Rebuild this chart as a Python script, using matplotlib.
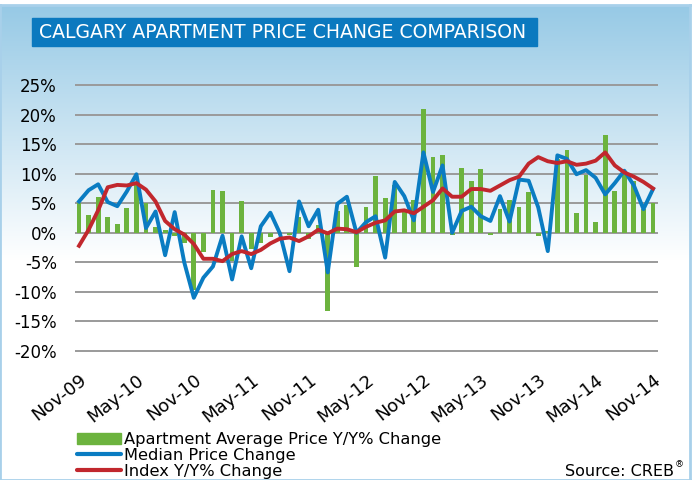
import numpy as np
import matplotlib
matplotlib.use("Agg")
import matplotlib.pyplot as plt
from matplotlib.patches import Patch, Rectangle
from matplotlib.lines import Line2D

months = ["Nov-09", "May-10", "Nov-10", "May-11", "Nov-11", "May-12",
          "Nov-12", "May-13", "Nov-13", "May-14", "Nov-14"]

# monthly values, Nov-09 .. Nov-14 (61 months)
avg_price = [5.0, 3.0, 6.1, 2.7, 1.5, 4.2, 8.5, 5.0, 1.0, 0.5, -0.5, -1.8,
             -9.6, -3.2, 7.2, 7.0, -4.7, 5.4, -2.8, -1.8, -0.7, -0.4, -0.3, 2.7,
             -1.0, 1.4, -13.3, 3.6, 4.7, -5.8, 4.4, 9.6, 5.8, 8.0, 3.5, 5.6,
             21.0, 12.8, 13.1, -0.4, 11.0, 8.8, 10.8, -0.3, 4.0, 5.6, 4.4, 6.9,
             -0.6, 0.3, 12.5, 14.0, 3.3, 9.7, 1.9, 16.6, 7.0, 9.8, 8.8, 4.0,
             5.0]
median_price = [5.3, 7.2, 8.2, 5.2, 4.5, 7.0, 9.9, 0.8, 3.6, -3.8, 3.5, -5.0,
                -11.0, -7.6, -5.7, -0.5, -7.9, -0.6, -6.0, 1.1, 3.4, -0.1, -6.5, 5.3,
                1.1, 3.9, -6.7, 4.9, 6.1, 0.0, 1.8, 2.8, -4.2, 8.6, 6.2, 2.1,
                13.6, 6.9, 11.4, 0.0, 3.7, 4.4, 2.8, 2.0, 6.2, 1.9, 9.0, 8.8,
                4.3, -3.1, 13.1, 12.5, 9.9, 10.6, 9.3, 6.5, 8.4, 10.5, 8.0, 4.0,
                7.4]
index_yy = [-2.2, 0.5, 3.8, 7.7, 8.1, 8.0, 8.4, 7.3, 5.3, 2.0, 0.6, -0.3,
            -1.9, -4.4, -4.4, -4.8, -3.6, -3.1, -3.6, -2.9, -1.8, -1.0, -0.8, -1.4,
            -0.6, 0.5, -0.1, 0.7, 0.6, 0.1, 1.0, 1.7, 2.1, 3.6, 3.8, 3.3,
            4.4, 5.5, 7.5, 6.1, 6.1, 7.4, 7.4, 7.1, 8.0, 8.9, 9.5, 11.7,
            12.8, 12.1, 11.8, 12.1, 11.5, 11.7, 12.2, 13.6, 11.4, 10.2, 9.5, 8.6,
            7.5]
y_ticks = [25, 20, 15, 10, 5, 0, -5, -10, -15, -20]

GREEN = "#6cb33e"
BLUE = "#0a7cc2"
RED = "#c1272d"
W, H = 692, 480

fig = plt.figure(figsize=(W / 100, H / 100), dpi=100)
fig.patch.set_facecolor("white")

# background panel with a light blue gradient fading to white
bg = fig.add_axes([0, 0, 690 / W, 475 / H], zorder=0)
rows = np.linspace(0, 1, 475)
fade = np.clip(rows / (255 / 475), 0, 1)[:, None]
top = np.array([0.59, 0.79, 0.90])
grad = top + (1 - top) * fade
grad = np.repeat(grad[:, None, :], 2, axis=1)
bg.imshow(grad, aspect="auto", extent=[0, 1, 0, 1], origin="upper")
bg.set_xticks([])
bg.set_yticks([])
for s in bg.spines.values():
    s.set_color("#a8d0ea")
    s.set_linewidth(2)

# title box
fig.patches.append(Rectangle((32 / W, 1 - 46 / H), 505 / W, 28 / H,
                             transform=fig.transFigure, color="#0b79bf", zorder=2))
fig.text(39 / W, 1 - 32.5 / H, "CALGARY APARTMENT PRICE CHANGE COMPARISON",
         color="white", fontsize=13.6, va="center", ha="left", zorder=3)

# plot area
px_unit = 266 / 45
ylo, yhi = -20.3, 25.3
ax_top = 85 - (yhi - 25) * px_unit
ax_bot = 351 + (-20 - ylo) * px_unit
ax = fig.add_axes([75 / W, 1 - ax_bot / H, 583 / W, (ax_bot - ax_top) / H], zorder=1)
ax.patch.set_alpha(0)

x = np.arange(len(avg_price))
ax.bar(x, avg_price, width=0.5, color=GREEN, zorder=2)
ax.plot(x, median_price, color=BLUE, lw=2.8, zorder=3)
ax.plot(x, index_yy, color=RED, lw=2.8, zorder=4, solid_joinstyle="round")

ax.set_xlim(-0.42, 60.52)
ax.set_ylim(ylo, yhi)
ax.set_yticks(y_ticks)
ax.set_yticklabels([f"{v}%" for v in y_ticks], fontsize=12)
ax.yaxis.grid(True, color="#9a9a9a", lw=1.4, zorder=1)
ax.set_xticks(np.arange(0, 61, 6))
ax.set_xticklabels(months, fontsize=13, rotation=38, ha="right", va="top",
                   rotation_mode="anchor")
ax.tick_params(axis="both", length=0)
ax.tick_params(axis="y", pad=13)
ax.tick_params(axis="x", pad=13)
for s in ax.spines.values():
    s.set_visible(False)

handles = [Patch(color=GREEN),
           Line2D([], [], color=BLUE, lw=3, solid_capstyle="round"),
           Line2D([], [], color=RED, lw=3, solid_capstyle="round")]
labels = ["Apartment Average Price Y/Y% Change", "Median Price Change",
          "Index Y/Y% Change"]
fig.legend(handles, labels, loc="upper left", bbox_to_anchor=(69 / W, 1 - 424 / H),
           frameon=False, fontsize=11.7, handlelength=2.7, handleheight=0.6,
           handletextpad=0.2, labelspacing=0.05, borderpad=0)

fig.text(674 / W, 1 - 471 / H, "Source: CREB", fontsize=11.5, ha="right", va="center")
fig.text(675 / W, 1 - 465 / H, "®", fontsize=6.5, ha="left", va="center")

fig.savefig("out.png", dpi=100)
